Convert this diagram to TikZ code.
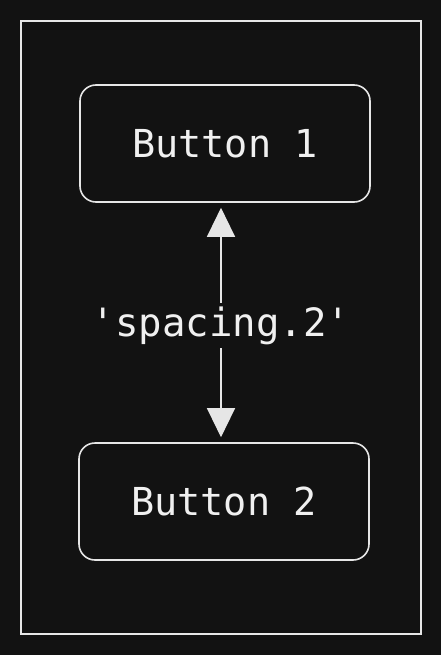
\documentclass[tikz,border=0pt]{standalone}
\usepackage{fontspec}
\setmonofont{DejaVu Sans Mono}
\usetikzlibrary{arrows.meta}
\definecolor{bg}{HTML}{121212}
\definecolor{ink}{HTML}{E6E6E6}
\definecolor{txt}{HTML}{F0F0F0}
\begin{document}
\begin{tikzpicture}[x=1pt,y=-1pt,
  btn/.style={draw=ink,line width=1.6pt,rounded corners=16pt,minimum width=290pt,minimum height=117pt,inner sep=0pt,text=txt,font=\ttfamily\fontsize{38.5}{40}\selectfont},
  lbl/.style={fill=bg,text=txt,inner sep=3pt,yshift=-3pt,font=\ttfamily\fontsize{39}{40}\selectfont},
  conn/.style={draw=ink,line width=1.2pt,{Triangle[length=29pt,width=28pt]}-{Triangle[length=29pt,width=28pt]},shorten <=5pt,shorten >=5pt}]
\fill[bg] (0,0) rectangle (441,655);
\useasboundingbox (0,0) rectangle (441,655);
\draw[ink,line width=2pt] (21,21) rectangle (421,634);
\node[btn] (b1) at (225,143.5) {Button 1};
\node[btn] (b2) at (224,501.5) {Button 2};
\draw[conn] ([xshift=-4pt]b1.south) -- node[lbl] (l) {'spacing.2'} ([xshift=-3pt]b2.north);
\end{tikzpicture}
\end{document}
